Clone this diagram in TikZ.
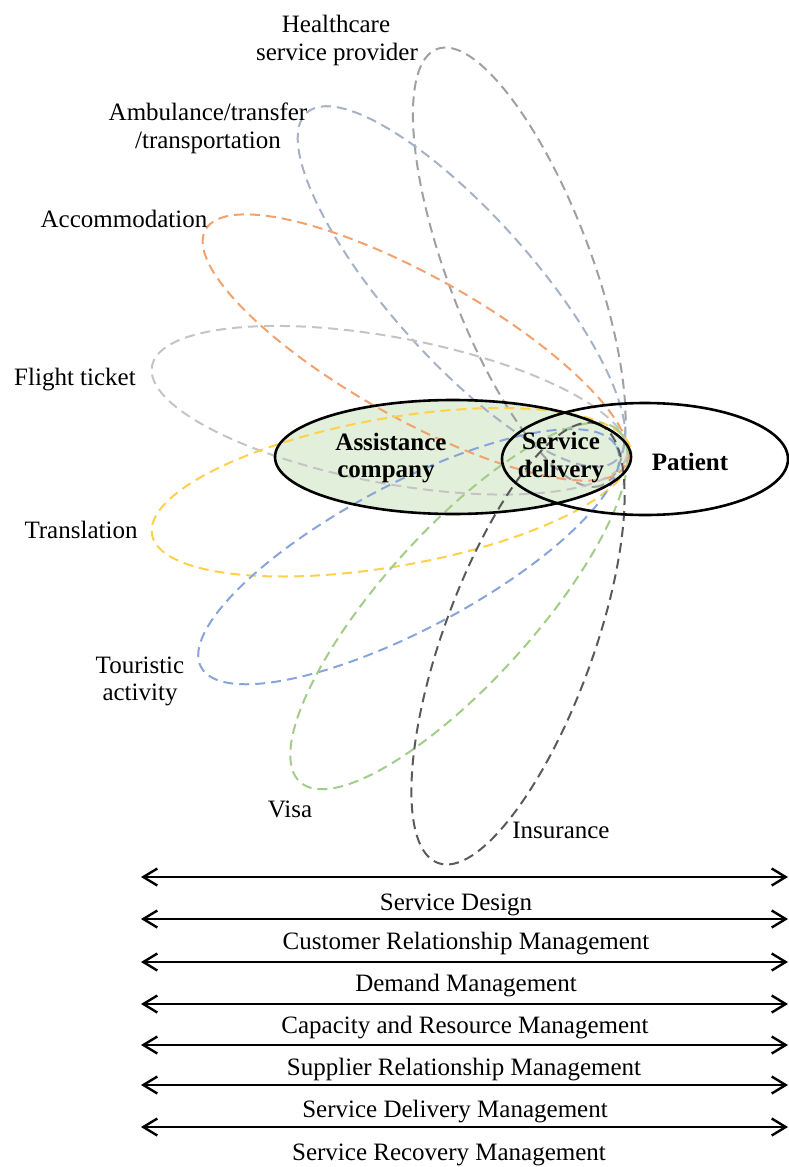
\documentclass[tikz,border=0pt]{standalone}
\usepackage{fontspec}
\setmainfont{Liberation Serif}
\usetikzlibrary{arrows.meta}
\definecolor{cHealth}{HTML}{A0A0A0}
\definecolor{cAmbu}{HTML}{A5B1C5}
\definecolor{cAcco}{HTML}{F2A26F}
\definecolor{cFlight}{HTML}{C4C4C4}
\definecolor{cTrans}{HTML}{FFD04A}
\definecolor{cTour}{HTML}{88A5DA}
\definecolor{cVisa}{HTML}{A2CD88}
\definecolor{cInsu}{HTML}{5A5A5A}
\definecolor{assistfill}{HTML}{E2EFDA}
% dashed ellipse given by its two tips (x1,y1) (x2,y2), half width #5, colour #6
\newcommand\tipell[6]{%
  \pgfmathsetmacro\fCX{(#1+#3)/2}%
  \pgfmathsetmacro\fCY{(#2+#4)/2}%
  \pgfmathsetmacro\fA{50*veclen((#3-#1)/100,(#4-#2)/100)}%
  \pgfmathsetmacro\fAng{atan2(-1*(#4-#2),#3-#1)}%
  \draw[fandash,draw=#6,rotate around={\fAng:(\fCX,\fCY)}] (\fCX,\fCY) ellipse [x radius=\fA, y radius=#5];%
}
\begin{document}
\begin{tikzpicture}[x=1pt,y=-1pt,
  fandash/.style={dash pattern=on 10pt off 6pt, line width=2pt},
  lab/.style={font=\fontsize{25}{30}\selectfont, inner sep=0pt, anchor=base},
  blab/.style={font=\fontsize{25}{30}\selectfont\bfseries, inner sep=0pt, anchor=base},
  solidell/.style={line width=2.6pt, draw=black},
  biarrow/.style={line width=2.4pt, {Straight Barb[length=14pt,width=17pt]}-{Straight Barb[length=14pt,width=17pt]}}]
\useasboundingbox (0,0) rectangle (789,1167);
% green fill of the assistance company
\fill[assistfill] (453,457) ellipse [x radius=178, y radius=57];
% fan of dashed ellipses
\tipell{437}{49}{601.5}{485.4}{72}{cHealth}
\tipell{306.8}{112.7}{616.2}{460.3}{72}{cAmbu}
\tipell{205.5}{229.7}{625.5}{465.3}{71}{cAcco}
\tipell{152}{366}{627.3}{454.5}{73}{cFlight}
\tipell{152}{534.5}{631}{450}{74}{cTrans}
\tipell{201}{667}{616.4}{446.4}{72.5}{cTour}
\tipell{300}{782}{618}{430}{76}{cVisa}
\tipell{438}{863}{598}{424}{75}{cInsu}
% solid outlines
\draw[solidell] (453,457) ellipse [x radius=178, y radius=57];
\draw[solidell] (645,459) ellipse [x radius=143, y radius=56];
% labels of the fan
\node[lab] (health1) at (336,32) {Healthcare};
\node[lab] (health2) at (337,60) {service provider};
\node[lab] (ambu1) at (208,120) {Ambulance/transfer};
\node[lab] (ambu2) at (208,148) {/transportation};
\node[lab] (acco) at (124,227) {Accommodation};
\node[lab] (flight) at (75,385) {Flight ticket};
\node[lab] (trans) at (81,538) {Translation};
\node[lab] (tour1) at (140,673) {Touristic};
\node[lab] (tour2) at (140,700) {activity};
\node[lab] (visa) at (290,817) {Visa};
\node[lab] (insu) at (561,838) {Insurance};
% central labels
\node[blab] (assist1) at (391,450) {Assistance};
\node[blab] (assist2) at (386,477) {company};
\node[blab] (serv1) at (561,449) {Service};
\node[blab] (serv2) at (561,477) {delivery};
\node[blab] (patient) at (690,470) {Patient};
% management arrows
\foreach \i/\y in {1/877,2/919,3/962,4/1004,5/1045,6/1085,7/1127}{
  \coordinate (aL\i) at (141,\y);
  \coordinate (aR\i) at (788,\y);
  \draw[biarrow] (aL\i) -- (aR\i);
}
\node[lab] (m1) at (456,910) {Service Design};
\node[lab] (m2) at (466,949) {Customer Relationship Management};
\node[lab] (m3) at (466,991) {Demand Management};
\node[lab] (m4) at (465,1033) {Capacity and Resource Management};
\node[lab] (m5) at (464,1075) {Supplier Relationship Management};
\node[lab] (m6) at (455,1117) {Service Delivery Management};
\node[lab] (m7) at (449,1160) {Service Recovery Management};
\end{tikzpicture}
\end{document}
